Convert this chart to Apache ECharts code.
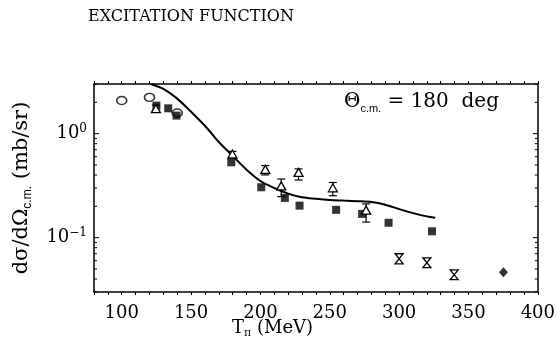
<!DOCTYPE html>
<html>
<head>
<meta charset="utf-8">
<script src="https://cdn.jsdelivr.net/npm/echarts@6/dist/echarts.min.js"></script>
<style>
  html, body { margin: 0; padding: 0; background: #fff; }
  #chart { width: 558px; height: 347px; }
</style>
</head>
<body>
<div id="chart"></div>
<script>
// open circles
const circleX = [100, 120, 140]
const circleY = [2.08, 2.23, 1.58]

// filled squares
const squareX = [125, 133.5, 139.5, 179, 200.6, 217.6, 228.2, 254.6, 273.3, 292.4, 323.7]
const squareY = [1.86, 1.75, 1.49, 0.53, 0.305, 0.241, 0.203, 0.185, 0.169, 0.139, 0.115]

// open triangles with error bars: x, y, low, high
const triX = [124.6, 179.8, 203.5, 215, 227.5, 252.2, 276.2]
const triY = [1.72, 0.63, 0.448, 0.311, 0.419, 0.298, 0.182]
const triLo = [1.60, 0.59, 0.401, 0.248, 0.358, 0.253, 0.141]
const triHi = [1.88, 0.675, 0.493, 0.366, 0.458, 0.339, 0.211]

// hourglass points (triangles with caps)
const hgX = [300, 320, 339.7]
const hgLo = [0.056, 0.0515, 0.0394]
const hgHi = [0.070, 0.064, 0.049]

// diamond
const diamondX = [375.2]
const diamondY = [0.0464]

// theory curve
const curveX = [121, 130, 140, 150, 160, 170, 180, 190, 200, 210, 220, 230, 240, 250, 260, 270, 280, 290, 300, 310, 320, 326]
const curveY = [3.0, 2.69, 2.17, 1.62, 1.19, 0.83, 0.61, 0.45, 0.35, 0.30, 0.265, 0.244, 0.236, 0.230, 0.227, 0.224, 0.220, 0.207, 0.188, 0.172, 0.160, 0.155]

// y tick values (log axis)
const yMajor = [0.1, 1]
const yMinor = [0.03, 0.04, 0.05, 0.06, 0.07, 0.08, 0.09, 0.2, 0.3, 0.4, 0.5, 0.6, 0.7, 0.8, 0.9, 2, 3]

const zip = (a, b) => a.map((v, i) => [v, b[i]])
const serif = 'DejaVu Serif'

const chart = echarts.init(document.getElementById('chart'), null, { renderer: 'canvas' })

const axisLine = { show: true, lineStyle: { color: '#000', width: 1.5 } }

function yLabel(v) {
  const l = Math.log10(v)
  if (Math.abs(l - Math.round(l)) > 1e-6) return ''
  const p = Math.round(l)
  return '10{sup|' + (p < 0 ? '\u2212' + (-p) : p) + '}'
}

chart.setOption({
  animation: false,
  backgroundColor: '#fff',
  grid: { left: 94, right: 19, top: 84, bottom: 55 },
  xAxis: [
    {
      type: 'value', min: 80, max: 400, interval: 10,
      axisLine, splitLine: { show: false },
      axisTick: { show: true, length: 3, lineStyle: { color: '#000' } },
      axisLabel: {
        margin: 12, color: '#000', fontFamily: serif, fontSize: 18,
        formatter: v => (v % 50 === 0 ? String(v) : '')
      }
    },
    {
      type: 'value', position: 'top', min: 80, max: 400, interval: 10,
      axisLine, splitLine: { show: false },
      axisTick: { show: true, length: 3, lineStyle: { color: '#000' } },
      axisLabel: { show: false }
    }
  ],
  yAxis: [
    {
      type: 'log', logBase: 10, min: 0.03, max: 3,
      axisLine, splitLine: { show: false }, axisTick: { show: false },
      axisLabel: {
        margin: 7, color: '#000', fontFamily: serif, fontSize: 18,
        formatter: yLabel,
        rich: { sup: { fontFamily: serif, fontSize: 12, verticalAlign: 'top', padding: [0, 0, 9, 0] } }
      },
      name: 'dσ/dΩ{sub|c.m.} (mb/sr)',
      nameLocation: 'middle', nameGap: 60,
      nameTextStyle: {
        color: '#000', fontFamily: serif, fontSize: 21,
        rich: { sub: { fontFamily: 'Liberation Sans', fontSize: 12, verticalAlign: 'bottom', padding: [12, 0, 0, 0] } }
      }
    },
    {
      type: 'log', logBase: 10, min: 0.03, max: 3, position: 'right',
      axisLine, splitLine: { show: false }, axisTick: { show: false }, axisLabel: { show: false }
    }
  ],
  graphic: [
    {
      type: 'text', left: 88, top: 9,
      style: { text: 'EXCITATION FUNCTION', fill: '#000', font: '16px "DejaVu Serif"' }
    },
    {
      type: 'text', left: 344, top: 92,
      style: {
        text: 'Θ{sub|c.m.} = 180  deg', fill: '#000', font: '20px "DejaVu Serif"',
        rich: { sub: { font: '11px "Liberation Sans"', verticalAlign: 'bottom', padding: [13, 0, 0, 0] } }
      }
    },
    {
      type: 'text', left: 232, top: 319,
      style: {
        text: 'T{sub|π} (MeV)', fill: '#000', font: '18px "DejaVu Serif"',
        rich: { sub: { font: '11px "DejaVu Serif"', verticalAlign: 'bottom', padding: [10, 0, 0, 0] } }
      }
    }
  ],
  series: [
    {
      // y-axis tick marks on left and right frame
      type: 'custom', silent: true, clip: false, z: 1,
      data: yMinor.map(v => [v, 3]).concat(yMajor.map(v => [v, 5])),
      renderItem: (params, api) => {
        const v = api.value(0), len = api.value(1)
        const a = api.coord([80, v]), b = api.coord([400, v])
        const st = { stroke: '#000', lineWidth: 1 }
        return {
          type: 'group', children: [
            { type: 'line', shape: { x1: a[0], y1: a[1], x2: a[0] + len, y2: a[1] }, style: st },
            { type: 'line', shape: { x1: b[0] - len, y1: b[1], x2: b[0], y2: b[1] }, style: st }
          ]
        }
      }
    },
    {
      type: 'line', data: zip(curveX, curveY), smooth: 0.3, showSymbol: false,
      lineStyle: { color: '#000', width: 2 }, z: 3
    },
    {
      type: 'scatter', data: zip(circleX, circleY), symbol: 'circle', symbolSize: [10, 8],
      itemStyle: { color: '#fff', borderColor: '#000', borderWidth: 1.5 }, z: 4
    },
    {
      type: 'scatter', data: zip(squareX, squareY), symbol: 'rect', symbolSize: 8,
      itemStyle: { color: '#000' }, z: 5
    },
    {
      type: 'scatter', data: zip(diamondX, diamondY), symbol: 'diamond', symbolSize: [9, 10],
      itemStyle: { color: '#000' }, z: 5
    },
    {
      // triangles with error bars
      type: 'custom', z: 6,
      data: triX.map((x, i) => [x, triY[i], triLo[i], triHi[i]]),
      renderItem: (params, api) => {
        const x = api.value(0)
        const c = api.coord([x, api.value(1)])
        const lo = api.coord([x, api.value(2)])
        const hi = api.coord([x, api.value(3)])
        const st = { stroke: '#000', lineWidth: 1.2, fill: null }
        const w = 4
        return {
          type: 'group', children: [
            { type: 'line', shape: { x1: c[0], y1: lo[1], x2: c[0], y2: hi[1] }, style: st },
            { type: 'line', shape: { x1: c[0] - w, y1: lo[1], x2: c[0] + w, y2: lo[1] }, style: st },
            { type: 'line', shape: { x1: c[0] - w, y1: hi[1], x2: c[0] + w, y2: hi[1] }, style: st },
            {
              type: 'polygon',
              shape: { points: [[c[0], c[1] - 4.5], [c[0] + 4.5, c[1] + 3.5], [c[0] - 4.5, c[1] + 3.5]] },
              style: { stroke: '#000', lineWidth: 1.3, fill: '#fff' }
            }
          ]
        }
      }
    },
    {
      // hourglass markers
      type: 'custom', z: 6,
      data: hgX.map((x, i) => [x, hgLo[i], hgHi[i]]),
      renderItem: (params, api) => {
        const x = api.value(0)
        const lo = api.coord([x, api.value(1)])
        const hi = api.coord([x, api.value(2)])
        const w = 4
        return {
          type: 'polygon',
          shape: { points: [[lo[0] - w, hi[1]], [lo[0] + w, hi[1]], [lo[0] - w, lo[1]], [lo[0] + w, lo[1]]] },
          style: { stroke: '#000', lineWidth: 1.3, fill: null }
        }
      }
    }
  ]
})
</script>
</body>
</html>
